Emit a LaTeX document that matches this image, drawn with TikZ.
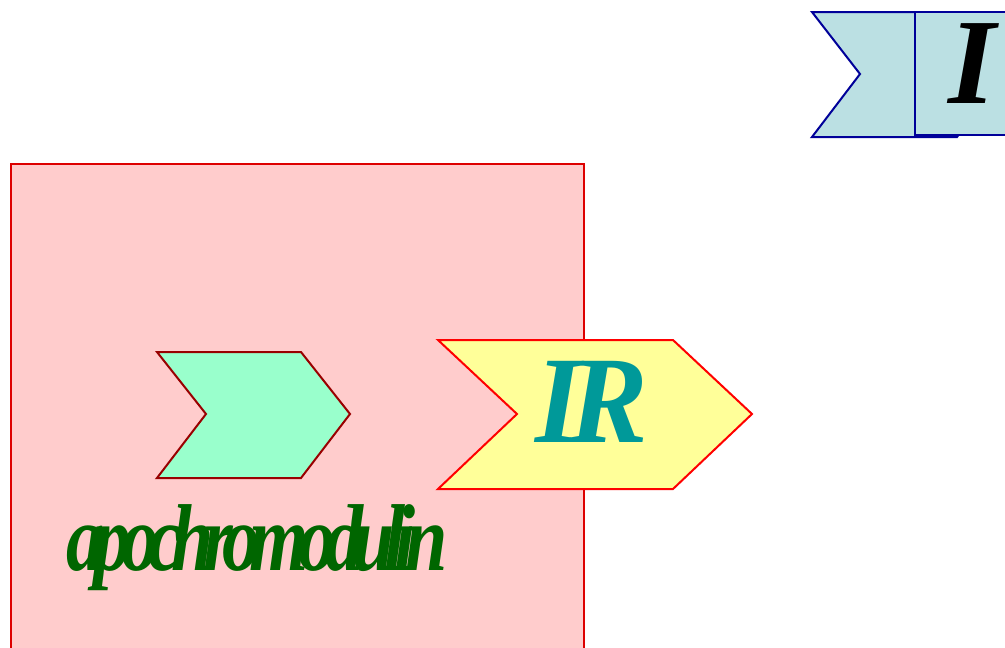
\documentclass[tikz,border=0pt]{standalone}
\usepackage{fontspec}
\setmainfont{Liberation Serif}
\newfontfamily\tightA[LetterSpace=-14]{Liberation Serif}
\newfontfamily\tightB[LetterSpace=-10]{Liberation Serif}
\definecolor{pinkfill}{HTML}{FFCCCC}
\definecolor{pinkline}{HTML}{DD0000}
\definecolor{greenfill}{HTML}{99FFCC}
\definecolor{greenline}{HTML}{990000}
\definecolor{yellowfill}{HTML}{FFFF99}
\definecolor{yellowline}{HTML}{FF0000}
\definecolor{bluefill}{HTML}{BBE0E3}
\definecolor{blueline}{HTML}{000099}
\definecolor{tealtext}{HTML}{009999}
\definecolor{greentext}{HTML}{006600}
\tikzset{
  shapeline/.style={line width=2pt, line join=miter},
  bigtext/.style={inner sep=0pt},
}
\begin{document}
\begin{tikzpicture}[x=1pt,y=-1pt]
\useasboundingbox (0,0) rectangle (1005,648);
% pink panel
\draw[shapeline, fill=pinkfill, draw=pinkline] (11,164) rectangle (584,660);
% green chevron
\draw[shapeline, fill=greenfill, draw=greenline]
  (157,352) -- (301,352) -- (350,414) -- (301,478) -- (157,478) -- (206,414) -- cycle;
% yellow chevron
\draw[shapeline, fill=yellowfill, draw=yellowline]
  (438,340) -- (673,340) -- (752,414) -- (673,489) -- (438,489) -- (517,414) -- cycle;
% blue chevron
\draw[shapeline, fill=bluefill, draw=blueline]
  (812,12) -- (957,12) -- (1005,74) -- (957,137) -- (812,137) -- (860,74) -- cycle;
% blue box
\draw[shapeline, fill=bluefill, draw=blueline] (915,12) rectangle (1015,135);
% texts
\node[bigtext, text=tealtext, anchor=base] (ir) at (592,442)
  {\scalebox{0.95}[1]{\tightB\bfseries\itshape\fontsize{124}{124}\selectfont IR}};
\node[bigtext, text=black, anchor=base] (i) at (972,103)
  {\bfseries\itshape\fontsize{122}{122}\selectfont I};
\node[bigtext, text=greentext, anchor=base] (apo) at (257,570)
  {\scalebox{0.8}[1]{\tightA\bfseries\itshape\fontsize{95}{95}\selectfont apochromodulin}};
\end{tikzpicture}
\end{document}
